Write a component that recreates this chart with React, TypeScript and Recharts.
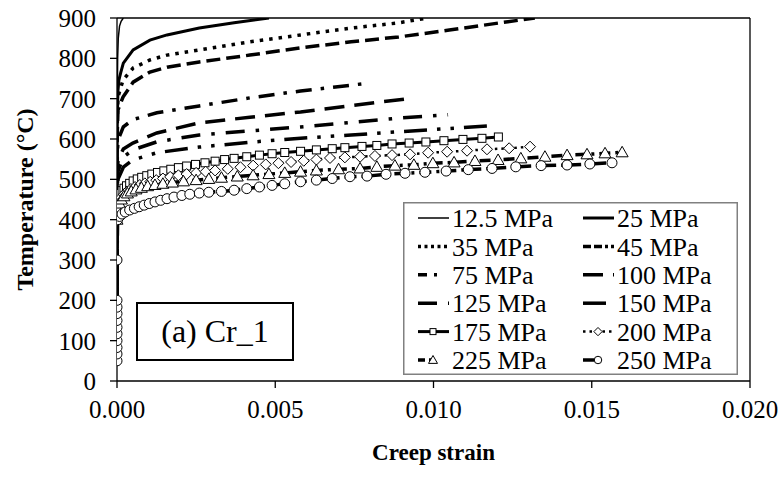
import React from 'react';
import { LineChart, Line, XAxis, YAxis, ReferenceLine, Legend, Label } from 'recharts';

type Pt = [number, number]; // [creep strain, temperature °C]

const xTicks = [0, 0.005, 0.01, 0.015, 0.02];
const yTicks = [0, 100, 200, 300, 400, 500, 600, 700, 800, 900];

const mpa12_5: Pt[] = [[0, 50], [0, 500], [0.00001, 700], [0.00002, 800], [0.00004, 850], [0.00008, 880], [0.00013, 892], [0.0002, 900]];
const mpa25: Pt[] = [[0, 50], [0, 500], [0.00001, 650], [0.00003, 720], [0.00006, 746], [0.00012, 765], [0.0002, 788], [0.00051, 821], [0.00104, 845], [0.00158, 858], [0.0026, 875], [0.0037, 888], [0.0048, 900]];
const mpa35: Pt[] = [[0, 50], [0, 500], [0.00001, 650], [0.00003, 704], [0.00019, 746], [0.00051, 776], [0.00104, 796], [0.00158, 808], [0.0026, 821], [0.0042, 841], [0.0058, 858], [0.0074, 875], [0.0089, 888], [0.0098, 900]];
const mpa45: Pt[] = [[0, 50], [0, 500], [0.00001, 620], [0.00003, 672], [0.00019, 704], [0.00051, 741], [0.00104, 766], [0.00158, 778], [0.0026, 791], [0.0042, 808], [0.0058, 826], [0.0074, 841], [0.0089, 853], [0.0105, 870], [0.0121, 888], [0.0132, 900]];
const mpa75: Pt[] = [[0, 50], [0, 450], [0.00001, 560], [0.00003, 597], [0.0002, 630], [0.0005, 648], [0.00126, 665], [0.0026, 682], [0.0042, 702], [0.0058, 719], [0.0069, 729], [0.008, 739]];
const mpa100: Pt[] = [[0, 50], [0, 420], [0.00001, 500], [0.00003, 548], [0.0002, 575], [0.0005, 590], [0.00126, 615], [0.0026, 640], [0.0042, 654], [0.0058, 667], [0.0074, 683], [0.0091, 699]];
const mpa125: Pt[] = [[0, 50], [0, 400], [0.00001, 480], [0.00003, 520], [0.0002, 555], [0.0005, 573], [0.00126, 593], [0.0026, 610], [0.0042, 620], [0.0058, 630], [0.0074, 641], [0.0089, 652], [0.01046, 660]];
const mpa150: Pt[] = [[0, 50], [0, 400], [0.00001, 460], [0.00003, 500], [0.0002, 530], [0.0005, 548], [0.00126, 566], [0.0026, 580], [0.0042, 592], [0.0058, 602], [0.0074, 610], [0.0089, 618], [0.0103, 625], [0.0117, 632]];
const mpa175: Pt[] = [[0, 400], [0.00002, 430], [0.00004, 445], [0.00007, 456], [0.00011, 465], [0.00016, 472], [0.00022, 478], [0.0003, 484], [0.0004, 490], [0.00051, 496], [0.00064, 501], [0.00078, 505], [0.00094, 509], [0.0011, 513], [0.00128, 517], [0.00148, 521], [0.0017, 525], [0.00194, 529], [0.0022, 533], [0.00248, 537], [0.00278, 541], [0.0031, 545], [0.0034, 549], [0.0037, 552], [0.0041, 556], [0.0045, 560], [0.0049, 563.5], [0.0053, 566.5], [0.0058, 569.5], [0.0063, 573], [0.0068, 576], [0.0072, 578.5], [0.00774, 581.6], [0.00821, 584], [0.00869, 587.7], [0.00923, 590], [0.00976, 592.6], [0.01033, 595.8], [0.01093, 599], [0.01153, 601.7], [0.01205, 605]];
const mpa200: Pt[] = [[0, 400], [0.00003, 430], [0.00008, 445], [0.00014, 455], [0.00022, 463], [0.00032, 470], [0.00044, 476], [0.00057, 481], [0.00072, 486], [0.00088, 490], [0.00105, 494], [0.00124, 498], [0.00145, 502], [0.00168, 506], [0.00194, 510], [0.0022, 513], [0.0025, 516], [0.0028, 519], [0.0031, 522], [0.0035, 526], [0.0039, 530], [0.0043, 534], [0.0047, 537], [0.0051, 540], [0.0055, 543], [0.0059, 546], [0.0063, 549], [0.00673, 553], [0.0072, 554.5], [0.00768, 556], [0.00815, 558], [0.00869, 560], [0.00926, 562], [0.00983, 566], [0.01043, 568.5], [0.01106, 571], [0.01169, 574.5], [0.01239, 577], [0.01305, 581]];
const mpa225: Pt[] = [[0, 400], [0.00003, 425], [0.00008, 440], [0.00014, 450], [0.00022, 458], [0.00033, 465], [0.00045, 470], [0.0006, 475], [0.00077, 479], [0.00097, 483], [0.0012, 486], [0.00145, 489], [0.00175, 492], [0.0021, 495], [0.0025, 498], [0.0029, 501], [0.0033, 504], [0.0038, 507], [0.0043, 510], [0.0048, 513], [0.0053, 516], [0.0058, 519], [0.0063, 522], [0.007, 525], [0.00768, 527], [0.00821, 531], [0.00878, 534], [0.00938, 536], [0.00998, 540], [0.01065, 542], [0.01131, 545.5], [0.01204, 548], [0.01276, 552], [0.01352, 556], [0.01422, 560], [0.01485, 562], [0.01542, 564.5], [0.01596, 567]];
const mpa250: Pt[] = [[0, 50], [0, 67], [0, 83], [0, 100], [0, 117], [0, 133], [0, 150], [0, 167], [0, 183], [0, 200], [0, 300], [0.00002, 400], [0.00008, 408], [0.00016, 414], [0.00026, 419], [0.0004, 424], [0.00055, 428], [0.0007, 432], [0.00086, 436], [0.00102, 440], [0.0012, 444], [0.00138, 448], [0.00158, 452], [0.0018, 456], [0.00205, 460], [0.0023, 463], [0.0026, 466], [0.0029, 468], [0.0033, 470], [0.0037, 473], [0.0041, 477], [0.0045, 481], [0.0049, 485], [0.0053, 489], [0.0058, 494], [0.0063, 498], [0.0068, 502], [0.00736, 506.5], [0.0079, 508], [0.0085, 512.5], [0.0091, 515], [0.00973, 517.5], [0.0104, 520.5], [0.0111, 524], [0.01185, 527], [0.0126, 531], [0.0134, 534], [0.01422, 535.5], [0.01494, 538], [0.01564, 541]];

const FONT = '"Liberation Serif", "Times New Roman", serif';

type Marker = 'none' | 'square' | 'diamond' | 'triangle' | 'circle';
interface SeriesDef {
  name: string;
  pts: Pt[];
  width: number;
  dash?: string;
  legendDash?: string;
  marker: Marker;
}

const series: SeriesDef[] = [
  { name: '12.5 MPa', pts: mpa12_5, width: 1.5, marker: 'none' },
  { name: '25 MPa', pts: mpa25, width: 3, marker: 'none' },
  { name: '35 MPa', pts: mpa35, width: 3.5, dash: '3.5 6', legendDash: '3 3.5', marker: 'none' },
  { name: '45 MPa', pts: mpa45, width: 3.5, dash: '14 6', legendDash: '8 3 8 3 3 3', marker: 'none' },
  { name: '75 MPa', pts: mpa75, width: 3.5, dash: '16 9 3.5 9', legendDash: '9 7 3 20', marker: 'none' },
  { name: '100 MPa', pts: mpa100, width: 3.5, dash: '20 10', marker: 'none' },
  { name: '125 MPa', pts: mpa125, width: 3.5, dash: '19 11 3.5 11', marker: 'none' },
  { name: '150 MPa', pts: mpa150, width: 3.5, dash: '23 10 3.5 10 3.5 10', marker: 'none' },
  { name: '175 MPa', pts: mpa175, width: 3, marker: 'square' },
  { name: '200 MPa', pts: mpa200, width: 2.5, dash: '2.5 4', marker: 'diamond' },
  { name: '225 MPa', pts: mpa225, width: 3.5, dash: '11 5 3 5', legendDash: '7 4 3 30', marker: 'triangle' },
  { name: '250 MPa', pts: mpa250, width: 3.5, dash: '12 5 3 5', legendDash: '12 20 3 5', marker: 'circle' },
];

function MarkerShape({ kind, cx, cy, s = 1 }: { kind: Marker; cx: number; cy: number; s?: number }) {
  const common = { fill: '#fff', stroke: '#000', strokeWidth: 1 };
  if (kind === 'square') return <rect x={cx - 4 * s} y={cy - 4 * s} width={8 * s} height={8 * s} {...common} />;
  if (kind === 'diamond') {
    const r = 5.5 * s;
    return <polygon points={`${cx},${cy - r} ${cx + r},${cy} ${cx},${cy + r} ${cx - r},${cy}`} {...common} />;
  }
  if (kind === 'triangle') {
    const r = 6 * s;
    return <polygon points={`${cx},${cy - r} ${cx + r},${cy + r * 0.75} ${cx - r},${cy + r * 0.75}`} {...common} />;
  }
  if (kind === 'circle') return <circle cx={cx} cy={cy} r={5 * s} {...common} />;
  return null;
}

const renderLegend = () => (
  <svg width={335} height={173} style={{ display: 'block' }}>
    <rect x={0.75} y={0.75} width={333.5} height={171.5} fill="#fff" stroke="#808080" strokeWidth={1.5} />
    {series.map((s, i) => {
      const col = i % 2;
      const row = Math.floor(i / 2);
      const x0 = col === 0 ? 15 : 180;
      const y = 16 + row * 28.4;
      return (
        <g key={s.name}>
          <line x1={x0} x2={x0 + 31} y1={y} y2={y} stroke="#000" strokeWidth={s.width} strokeDasharray={s.legendDash ?? s.dash} />
          {s.marker !== 'none' && <MarkerShape kind={s.marker} cx={x0 + 15} cy={y} s={0.75} />}
          <text x={x0 + 34} y={y} dy="0.35em" fontSize={26} fontFamily={FONT} fill="#000">{s.name}</text>
        </g>
      );
    })}
  </svg>
);

export default function App() {
  return (
    <div style={{ position: 'absolute', left: 0, top: 0, width: 784, height: 479, background: '#fff' }}>
      <LineChart width={784} height={479} margin={{ top: 18, right: 34, bottom: 0, left: 0 }}>
        <XAxis
          type="number"
          dataKey="strain"
          domain={[0, 0.02]}
          ticks={xTicks}
          interval={0}
          allowDataOverflow
          tickFormatter={(v: number) => v.toFixed(3)}
          height={98}
          tickSize={7}
          tickMargin={12}
          stroke="#000"
          axisLine={{ stroke: '#000', strokeWidth: 1.3 }}
          tickLine={{ stroke: '#000', strokeWidth: 1.3 }}
          tick={{ fill: '#000', fontSize: 25, fontFamily: FONT }}
        >
          <Label
            content={(p: any) => {
              const vb = p.viewBox || { x: 117, width: 633, y: 381 };
              return (
                <text x={vb.x + vb.width / 2} y={452} dy="0.35em" textAnchor="middle" fontSize={23} fontWeight="bold" fontFamily={FONT} fill="#000">
                  Creep strain
                </text>
              );
            }}
          />
        </XAxis>
        <YAxis
          type="number"
          domain={[0, 900]}
          ticks={yTicks}
          interval={0}
          allowDataOverflow
          width={117}
          tickSize={7}
          tickMargin={14}
          stroke="#000"
          axisLine={{ stroke: '#000', strokeWidth: 1.3 }}
          tickLine={{ stroke: '#000', strokeWidth: 1.3 }}
          tick={{ fill: '#000', fontSize: 25, fontFamily: FONT }}
        >
          <Label
            content={(p: any) => {
              const vb = p.viewBox || { y: 18, height: 363 };
              const cy = vb.y + vb.height / 2;
              return (
                <text x={25} y={cy} dy="0.35em" textAnchor="middle" transform={`rotate(-90 25 ${cy})`} fontSize={24} fontWeight="bold" fontFamily={FONT} fill="#000">
                  Temperature (°C)
                </text>
              );
            }}
          />
        </YAxis>
        <ReferenceLine y={900} stroke="#000" strokeWidth={1.3} />
        <ReferenceLine x={0.02} stroke="#000" strokeWidth={1.3} />
        {series.map((s) => (
          <Line
            key={s.name}
            name={s.name}
            data={s.pts.map(([strain, temp]) => ({ strain, temp }))}
            dataKey="temp"
            type="linear"
            stroke="#000"
            strokeWidth={s.width}
            strokeDasharray={s.dash}
            isAnimationActive={false}
            activeDot={false}
            dot={
              s.marker === 'none'
                ? false
                : (p: any) => <MarkerShape key={`${s.name}-${p.index}`} kind={s.marker} cx={p.cx} cy={p.cy} />
            }
          />
        ))}
        <Legend
          layout="vertical"
          align="center"
          verticalAlign="middle"
          content={renderLegend}
          wrapperStyle={{ position: 'absolute', left: 403, top: 202, width: 335, height: 173 }}
        />
      </LineChart>
      <div
        style={{
          position: 'absolute',
          left: 136,
          top: 302,
          width: 158,
          height: 59,
          boxSizing: 'border-box',
          border: '2px solid #000',
          background: '#fff',
          display: 'flex',
          alignItems: 'center',
          justifyContent: 'center',
          fontFamily: FONT,
          fontSize: 32,
          color: '#000',
        }}
      >
        (a) Cr_1
      </div>
    </div>
  );
}
